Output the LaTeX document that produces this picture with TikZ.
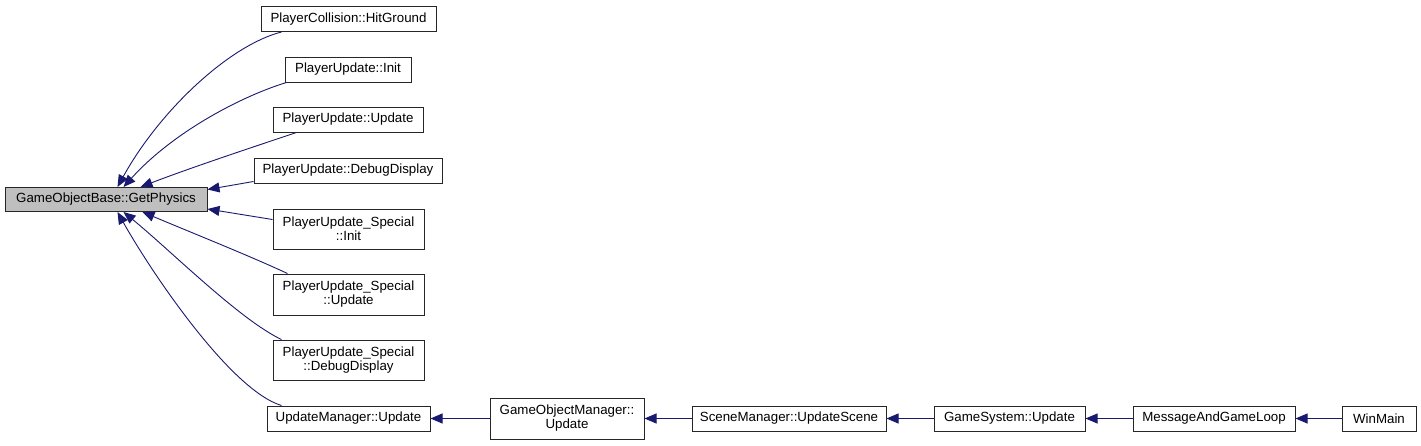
\documentclass[tikz,border=0pt]{standalone}
\usepackage{fontspec}
\setmainfont{Liberation Sans}
\usetikzlibrary{arrows.meta}
\definecolor{edgeblue}{HTML}{191970}
\definecolor{hlgray}{HTML}{BFBFBF}
\tikzset{
  box/.style={draw=black!85, line width=1pt, fill=white, inner sep=0pt, align=center,
    font=\fontsize{13.3}{14}\selectfont},
  edge/.style={draw=edgeblue, line width=0.9pt, {Triangle[length=12pt,width=10pt]}-},
}
\begin{document}
\begin{tikzpicture}[x=1pt,y=-1pt]
\useasboundingbox[fill=white] (0,0) rectangle (1421,445);
% nodes
\node[box, fill=hlgray, minimum width=202pt, minimum height=24pt] (GP) at (106,199.5) {GameObjectBase::GetPhysics};
\node[box, minimum width=175pt, minimum height=25pt] (HG) at (348.5,19) {PlayerCollision::HitGround};
\node[box, minimum width=126pt, minimum height=25pt] (PI) at (348,69.5) {PlayerUpdate::Init};
\node[box, minimum width=150pt, minimum height=25pt] (PU) at (348,119.5) {PlayerUpdate::Update};
\node[box, minimum width=188pt, minimum height=25pt] (PD) at (348,170.5) {PlayerUpdate::DebugDisplay};
\node[box, minimum width=151pt, minimum height=40pt] (SI) at (348.5,229) {PlayerUpdate\_Special\\::Init};
\node[box, minimum width=151pt, minimum height=41pt] (SU) at (348.5,294.5) {PlayerUpdate\_Special\\::Update};
\node[box, minimum width=151pt, minimum height=40pt] (SD) at (348.5,360) {PlayerUpdate\_Special\\::DebugDisplay};
\node[box, minimum width=163pt, minimum height=25pt] (UM) at (348.5,418.5) {UpdateManager::Update};
\node[box, minimum width=154pt, minimum height=41pt] (GOM) at (567,418.5) {GameObjectManager::\\Update};
\node[box, minimum width=194pt, minimum height=25pt] (SM) at (789,418.5) {SceneManager::UpdateScene};
\node[box, minimum width=151pt, minimum height=25pt] (GS) at (1009.5,418.5) {GameSystem::Update};
\node[box, minimum width=162pt, minimum height=25pt] (MG) at (1214,418.5) {MessageAndGameLoop};
\node[box, minimum width=74pt, minimum height=25pt] (WM) at (1379,418.5) {WinMain};
% edges into GetPhysics
\draw[edge] ([xshift=113pt]GP.north west) .. controls (160,110) and (230,45) .. ([xshift=21pt]HG.south west);
\draw[edge] ([xshift=119pt]GP.north west) .. controls (175,130) and (245,95) .. ([xshift=2pt]PI.south west);
\draw[edge] ([xshift=136pt]GP.north west) .. controls (190,168) and (250,148) .. ([xshift=24pt]PU.south west);
\draw[edge] ([yshift=10pt]GP.east) -- ([yshift=2pt]PD.south west);
\draw[edge] ([yshift=-22pt]GP.north east) -- ([yshift=-11pt]SI.north west);
\draw[edge] ([xshift=138pt]GP.south west) .. controls (190,232) and (250,256) .. ([xshift=15pt]SU.north west);
\draw[edge] ([xshift=119pt]GP.south west) .. controls (170,250) and (240,320) .. ([xshift=9pt]SD.north west);
\draw[edge] ([xshift=113pt]GP.south west) .. controls (150,270) and (230,390) .. ([xshift=15pt]UM.north west);
% chain
\draw[edge] (UM.east) -- (GOM.west);
\draw[edge] (GOM.east) -- (SM.west);
\draw[edge] (SM.east) -- (GS.west);
\draw[edge] (GS.east) -- (MG.west);
\draw[edge] (MG.east) -- (WM.west);
\end{tikzpicture}
\end{document}
